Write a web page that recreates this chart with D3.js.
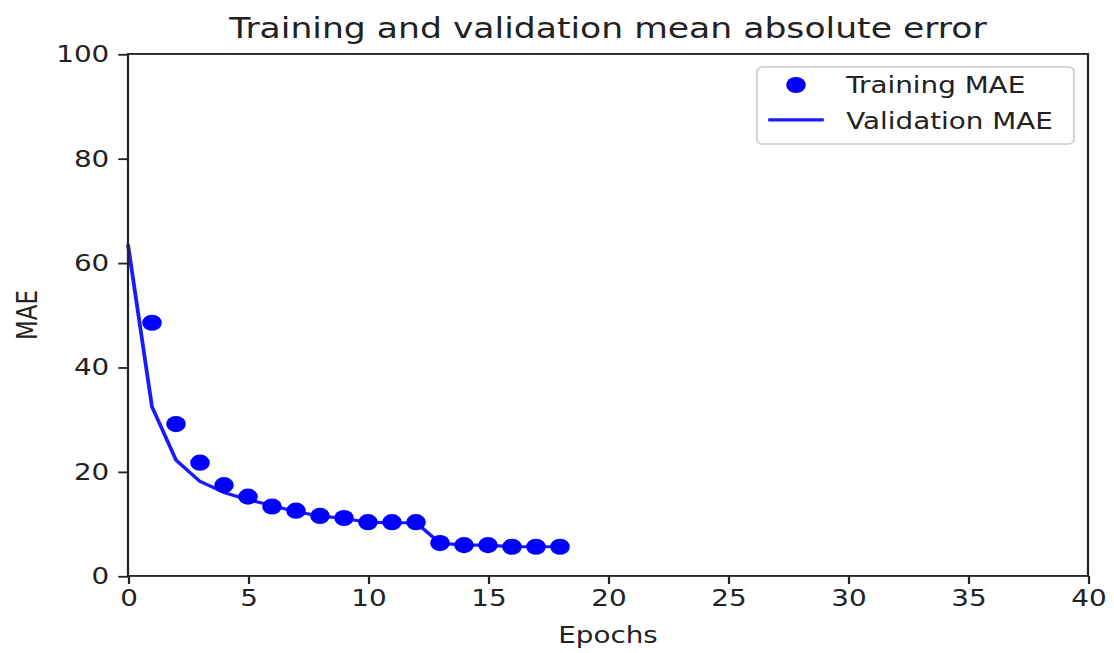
<!DOCTYPE html>
<html>
<head>
<meta charset="utf-8">
<script src="https://cdn.jsdelivr.net/npm/d3@7"></script>
<style>
  html, body { margin: 0; padding: 0; background: #fff; }
  svg { display: block; }
  text { font-family: 'DejaVu Sans', sans-serif; fill: #222; }
</style>
</head>
<body>
<div id="chart"></div>
<script>
// -------- Data --------
const epochs = d3.range(0, 19);
const trainingMAE = [null, 48.5, 29.1, 21.7, 17.4, 15.2, 13.3, 12.5, 11.5, 11.1,
                     10.3, 10.3, 10.3, 6.3, 5.9, 5.9, 5.6, 5.6, 5.6];
const validationMAE = [63.5, 32.4, 22.2, 18.1, 16.0, 14.6, 13.5, 12.3, 11.5, 11.0,
                       10.3, 10.2, 10.2, 6.3, 5.9, 5.9, 5.6, 5.6, 5.6];
const xTicks = [0, 5, 10, 15, 20, 25, 30, 35, 40];
const yTicks = [0, 20, 40, 60, 80, 100];

// -------- Dimensions (drawn in figure units, stretched to the window) --------
const outW = 1114, outH = 653;
const W = 557, H = 395.8;
const margin = { top: 32.7, right: 13, bottom: 46.7, left: 64 };
const width  = W - margin.left - margin.right;
const height = H - margin.top - margin.bottom;

const svg = d3.select('#chart')
  .append('svg')
    .attr('width', outW)
    .attr('height', outH)
    .attr('viewBox', `0 0 ${W} ${H}`)
    .attr('preserveAspectRatio', 'none');

const ctr = svg.append('g')
    .attr('transform', `translate(${margin.left},${margin.top})`);

// -------- Scales --------
const x = d3.scaleLinear().domain([0, 40]).range([0, width]);
const y = d3.scaleLinear().domain([0, 100]).range([height, 0]);

// -------- Validation line --------
const line = d3.line()
  .x((d, i) => x(epochs[i]))
  .y(d => y(d));

ctr.append('path')
  .datum(validationMAE)
  .attr('fill', 'none')
  .attr('stroke', '#1a1aff')
  .attr('stroke-width', 1.9)
  .attr('stroke-linejoin', 'round')
  .attr('d', line);

// -------- Training points --------
ctr.selectAll('circle.train')
  .data(epochs.filter(e => trainingMAE[e] != null))
  .join('circle')
    .attr('class', 'train')
    .attr('cx', d => x(d))
    .attr('cy', d => y(trainingMAE[d]))
    .attr('r', 4.9)
    .attr('fill', '#0000ff');

// -------- Axes --------
const xAxis = d3.axisBottom(x).tickValues(xTicks).tickSize(4.86).tickPadding(3.5);
const yAxis = d3.axisLeft(y).tickValues(yTicks).tickSize(4.86).tickPadding(4.5);

const gx = ctr.append('g')
    .attr('transform', `translate(0,${height})`)
    .call(xAxis);
const gy = ctr.append('g').call(yAxis);

[gx, gy].forEach(g => {
  g.select('.domain').remove();
  g.selectAll('line').attr('stroke', '#222').attr('stroke-width', 1.11);
  g.selectAll('text')
    .style('font-size', '13.9px')
    .style('font-family', "'DejaVu Sans', sans-serif")
    .attr('fill', '#222');
});

// frame
ctr.append('rect')
  .attr('width', width)
  .attr('height', height)
  .attr('fill', 'none')
  .attr('stroke', '#222')
  .attr('stroke-width', 1.11);

// -------- Labels --------
svg.append('text')
  .attr('x', margin.left + width / 2)
  .attr('y', 23)
  .attr('text-anchor', 'middle')
  .style('font-size', '17.3px')
  .text('Training and validation mean absolute error');

svg.append('text')
  .attr('x', margin.left + width / 2)
  .attr('y', 389.5)
  .attr('text-anchor', 'middle')
  .style('font-size', '13.9px')
  .text('Epochs');

svg.append('text')
  .attr('transform', `translate(18.3,${margin.top + height / 2}) rotate(-90)`)
  .attr('text-anchor', 'middle')
  .style('font-size', '13.9px')
  .text('MAE');

// -------- Legend --------
const legend = svg.append('g')
  .attr('transform', `translate(378.5,40.6)`);

legend.append('rect')
  .attr('width', 158.5)
  .attr('height', 46.7)
  .attr('rx', 2.8)
  .attr('fill', '#fff')
  .attr('fill-opacity', 0.8)
  .attr('stroke', '#d6d6d6')
  .attr('stroke-width', 1.11);

const items = [
  { label: 'Training MAE', type: 'dot', cy: 10.9, ty: 15.8 },
  { label: 'Validation MAE', type: 'line', cy: 32.1, ty: 37.6 }
];

legend.selectAll('g.legend-item')
  .data(items)
  .join('g')
    .attr('class', 'legend-item')
  .each(function (d) {
    const g = d3.select(this);
    if (d.type === 'dot') {
      g.append('circle')
        .attr('cx', 19.5)
        .attr('cy', d.cy)
        .attr('r', 4.9)
        .attr('fill', '#0000ff');
    } else {
      g.append('line')
        .attr('x1', 5.6).attr('x2', 33.4)
        .attr('y1', d.cy).attr('y2', d.cy)
        .attr('stroke', '#1a1aff')
        .attr('stroke-width', 1.9);
    }
    g.append('text')
      .attr('x', 44.6)
      .attr('y', d.ty)
      .style('font-size', '13.9px')
      .text(d.label);
  });
</script>
</body>
</html>
